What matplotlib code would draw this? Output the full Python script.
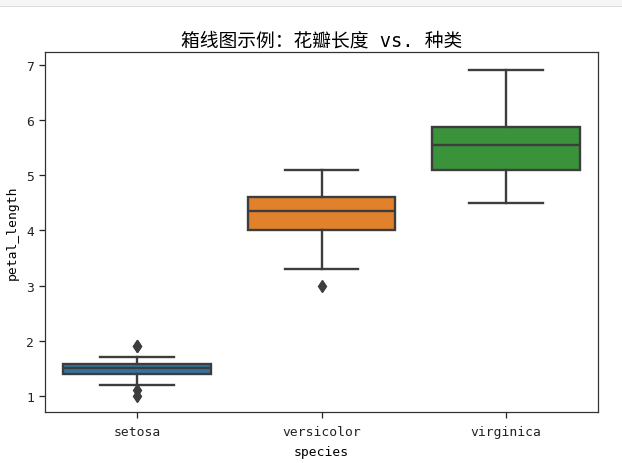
import matplotlib
matplotlib.use('Agg')
import matplotlib.pyplot as plt
from matplotlib import font_manager
from matplotlib.patches import Rectangle

# ---- data ----
species = ['setosa', 'versicolor', 'virginica']
whisker_low = [1.2, 3.3, 4.5]
q1 = [1.4, 4.0, 5.1]
median = [1.5, 4.35, 5.55]
q3 = [1.575, 4.6, 5.875]
whisker_high = [1.7, 5.1, 6.9]
outliers = [[1.0, 1.1, 1.9, 1.9], [3.0], []]
box_colors = ['#3274a1', '#e1812c', '#3a923a']
title = '箱线图示例：花瓣长度 vs. 种类'
xlabel = 'species'
ylabel = 'petal_length'

names = {f.name for f in font_manager.fontManager.ttflist}
if 'Noto Sans Mono CJK SC' in names:
    mono = 'Noto Sans Mono CJK SC'
    fs = 11.2
else:
    mono = 'DejaVu Sans Mono'
    fs = 9.4
plt.rcParams['font.family'] = [mono, 'Noto Sans CJK SC', 'DejaVu Sans']
plt.rcParams['axes.unicode_minus'] = False

gray = '#3d3d3d'
lw = 1.7

fig = plt.figure(figsize=(6.22, 4.64), dpi=100)
# notebook header strip
fig.patches.append(Rectangle((0, 1 - 7 / 464), 1, 7 / 464, transform=fig.transFigure,
                             facecolor='#f5f5f5', edgecolor='none', zorder=0))
fig.patches.append(Rectangle((0, 1 - 8 / 464), 1, 1 / 464, transform=fig.transFigure,
                             facecolor='#dcdcdc', edgecolor='none', zorder=0))

ax = fig.add_axes([45 / 622, 51 / 464, 553 / 622, 360 / 464])

stats = []
for i, s in enumerate(species):
    stats.append(dict(label=s, whislo=whisker_low[i], q1=q1[i], med=median[i],
                      q3=q3[i], whishi=whisker_high[i], fliers=outliers[i]))

bp = ax.bxp(stats, positions=range(len(species)), widths=0.8, patch_artist=True,
            boxprops=dict(edgecolor=gray, linewidth=lw),
            medianprops=dict(color=gray, linewidth=lw),
            whiskerprops=dict(color=gray, linewidth=lw),
            capprops=dict(color=gray, linewidth=lw),
            flierprops=dict(marker='d', markerfacecolor=gray, markeredgecolor=gray,
                            markersize=6, linestyle='none'))
for patch, c in zip(bp['boxes'], box_colors):
    patch.set_facecolor(c)

ax.set_xlim(-0.5, 2.5)
ax.set_ylim(0.71, 7.23)
ax.set_xticks(range(len(species)))
ax.set_xticklabels(species)
ax.set_yticks([1, 2, 3, 4, 5, 6, 7])
ax.tick_params(labelsize=fs, length=4.5, width=0.9, colors='#222222')
ax.tick_params(axis='x', pad=5)
ax.tick_params(axis='y', pad=3.5)
for sp in ax.spines.values():
    sp.set_linewidth(0.9)
    sp.set_color('#333333')
ax.set_xlabel(xlabel, fontsize=fs, labelpad=5)
ax.set_ylabel(ylabel, fontsize=fs, labelpad=5.5)
ax.set_title(title, fontsize=13.5, pad=5)

fig.savefig('out.png', dpi=100)
